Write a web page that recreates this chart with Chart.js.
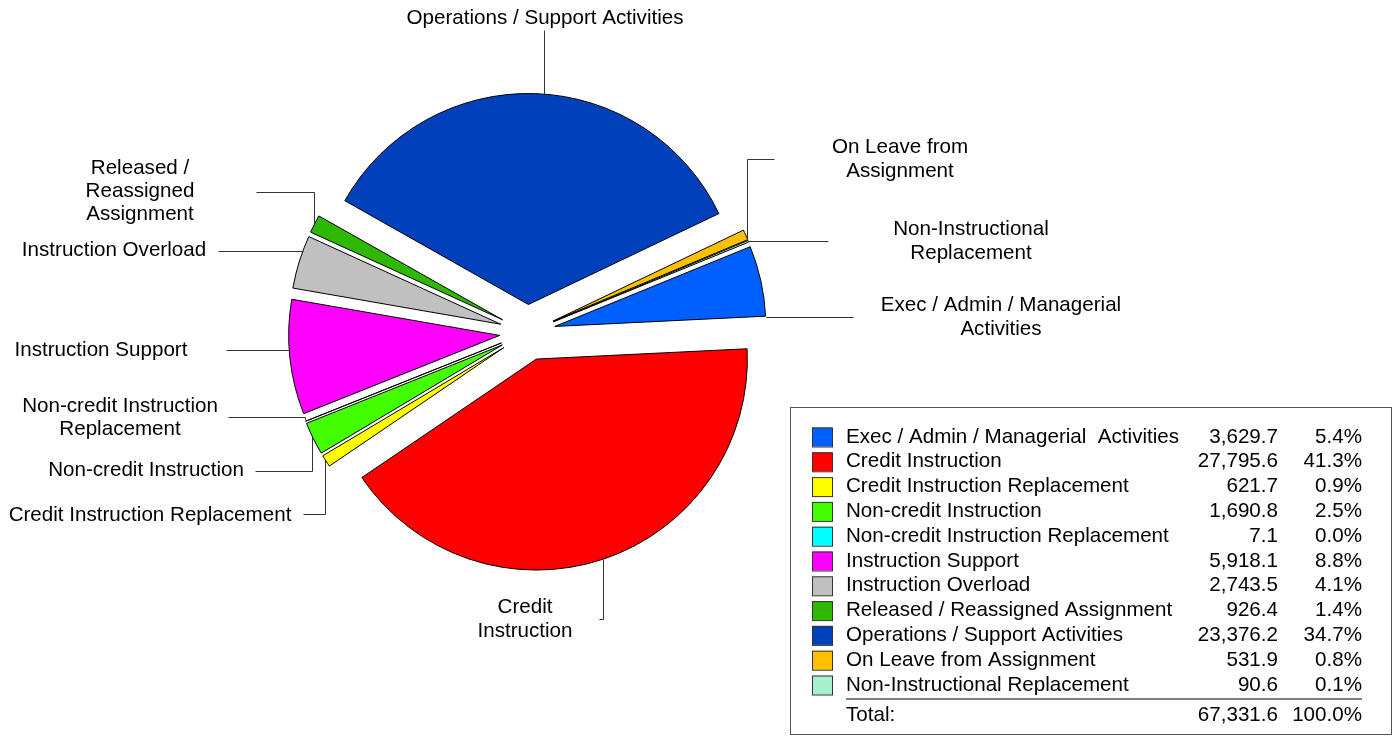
<!DOCTYPE html>
<html>
<head>
<meta charset="utf-8">
<script src="https://cdn.jsdelivr.net/npm/chart.js@4/dist/chart.umd.min.js"></script>
<style>
  html, body { margin: 0; padding: 0; background: #fff; }
  canvas { display: block; }
</style>
</head>
<body>
<canvas id="camembert" width="1393" height="736"></canvas>
<script>
// Données (ordre des parts, dans le sens horaire)
const categories = [
  "Exec / Admin / Managerial  Activities",
  "Credit Instruction",
  "Credit Instruction Replacement",
  "Non-credit Instruction",
  "Non-credit Instruction Replacement",
  "Instruction Support",
  "Instruction Overload",
  "Released / Reassigned Assignment",
  "Operations / Support Activities",
  "On Leave from Assignment",
  "Non-Instructional Replacement"
];
const values = [3629.7, 27795.6, 621.7, 1690.8, 7.1, 5918.1, 2743.5, 926.4, 23376.2, 531.9, 90.6];
const colors = [
  "#0060ff", "#ff0000", "#ffff00", "#44ff00", "#00ffff", "#ff00ff",
  "#c0c0c0", "#2eb800", "#0041bb", "#ffc000", "#a8f0d0"
];
// Étiquettes autour du camembert (découpées en lignes)
const sliceLabels = [
  ["Exec / Admin / Managerial", "Activities"],
  ["Credit", "Instruction"],
  ["Credit Instruction Replacement"],
  ["Non-credit Instruction"],
  ["Non-credit Instruction", "Replacement"],
  ["Instruction Support"],
  ["Instruction Overload"],
  ["Released /", "Reassigned", "Assignment"],
  ["Operations / Support Activities"],
  ["On Leave from", "Assignment"],
  ["Non-Instructional", "Replacement"]
];

const total = values.reduce((a, b) => a + b, 0);

// Mise en page
const FONT = '20.6px "Liberation Sans", Arial, sans-serif';
const PIE_RADIUS = 211;
const EXPLODE = 28;         // décalage de chaque part vers l'extérieur
const START_ANGLE = -22.2;  // début de la première part (degrés, 0 = 3 heures)

// Position du texte + coudes du trait de rappel ; le dernier segment va jusqu'au bord de la part
const labelPlacement = [
  { cx: 1001, ys: [305, 329], knees: [[853, 317]], end: "h" },
  { cx: 525, ys: [607, 631], knees: [[599, 619], [603, 619]], end: "v" },
  { cx: 150, ys: [515], knees: [[303, 514], [325, 514]], end: "v" },
  { cx: 146, ys: [470], knees: [[255, 471], [312, 471]], end: "v" },
  { cx: 120, ys: [406, 429], knees: [[228, 417], [305, 417]], end: "v" },
  { cx: 101, ys: [350], knees: [[226, 350]], end: "h" },
  { cx: 114, ys: [250], knees: [[218, 251]], end: "h" },
  { cx: 140, ys: [168, 191, 214], knees: [[256, 192], [314, 192]], end: "v" },
  { cx: 545, ys: [18], knees: [[544, 30]], end: "v" },
  { cx: 900, ys: [147, 171], knees: [[774, 159], [747, 159]], end: "v" },
  { cx: 971, ys: [229, 253], knees: [[828, 241]], end: "h" }
];

// Parts éclatées : chaque arc est dessiné décalé le long de sa bissectrice
const eclatement = {
  id: "eclatement",
  beforeDatasetDraw(chart, args) {
    const ctx = chart.ctx;
    args.meta.data.forEach(arc => {
      const mid = (arc.startAngle + arc.endAngle) / 2;
      ctx.save();
      ctx.translate(Math.cos(mid) * EXPLODE, Math.sin(mid) * EXPLODE);
      arc.draw(ctx);
      ctx.restore();
    });
    return false;
  }
};

// Étiquettes et traits de rappel
const etiquettes = {
  id: "etiquettes",
  afterDatasetsDraw(chart) {
    const ctx = chart.ctx;
    const arcs = chart.getDatasetMeta(0).data;
    ctx.save();
    ctx.font = FONT;
    ctx.fillStyle = "#000";
    ctx.textAlign = "center";
    ctx.textBaseline = "middle";
    ctx.strokeStyle = "#333";
    ctx.lineWidth = 1;
    arcs.forEach((arc, i) => {
      const place = labelPlacement[i];
      const r = arc.outerRadius;
      const mid = (arc.startAngle + arc.endAngle) / 2;
      const cx = arc.x + Math.cos(mid) * EXPLODE;
      const cy = arc.y + Math.sin(mid) * EXPLODE;
      const last = place.knees[place.knees.length - 1];
      let endPt;
      if (place.end === "h") {
        const d = Math.sqrt(Math.max(0, r * r - (last[1] - cy) ** 2));
        endPt = [last[0] < cx ? cx - d : cx + d, last[1]];
      } else {
        const d = Math.sqrt(Math.max(0, r * r - (last[0] - cx) ** 2));
        endPt = [last[0], last[1] < cy ? cy - d : cy + d];
      }
      ctx.beginPath();
      place.knees.forEach((p, k) => k === 0 ? ctx.moveTo(p[0] + 0.5, p[1] + 0.5) : ctx.lineTo(p[0] + 0.5, p[1] + 0.5));
      ctx.lineTo(endPt[0] + 0.5, endPt[1] + 0.5);
      ctx.stroke();
      sliceLabels[i].forEach((txt, k) => ctx.fillText(txt, place.cx, place.ys[k]));
    });
    ctx.restore();
  }
};

// Légende en tableau (nom, valeur, pourcentage)
const tableau = {
  id: "tableau",
  afterDraw(chart) {
    const ctx = chart.ctx;
    const fmt = v => v.toLocaleString("en-US", { minimumFractionDigits: 1, maximumFractionDigits: 1 });
    ctx.save();
    ctx.strokeStyle = "#555";
    ctx.lineWidth = 1;
    ctx.strokeRect(790.5, 407.5, 601, 327);
    ctx.font = FONT;
    ctx.textBaseline = "middle";
    categories.forEach((nom, i) => {
      const y = 437 + i * 24.8;
      ctx.fillStyle = colors[i];
      ctx.fillRect(812, y - 9.5, 20, 19);
      ctx.strokeStyle = "#333";
      ctx.strokeRect(812.5, y - 9, 20, 19);
      ctx.fillStyle = "#000";
      ctx.textAlign = "left";
      ctx.fillText(nom, 846, y);
      ctx.textAlign = "right";
      ctx.fillText(fmt(values[i]), 1278, y);
      ctx.fillText((values[i] / total * 100).toFixed(1) + "%", 1362, y);
    });
    ctx.strokeStyle = "#808080";
    ctx.lineWidth = 2;
    ctx.beginPath();
    ctx.moveTo(846, 699);
    ctx.lineTo(1362, 699);
    ctx.stroke();
    ctx.fillStyle = "#000";
    ctx.textAlign = "left";
    ctx.fillText("Total:", 846, 715);
    ctx.textAlign = "right";
    ctx.fillText(fmt(total), 1278, 715);
    ctx.fillText("100.0%", 1362, 715);
    ctx.restore();
  }
};

const data = {
  labels: categories,
  datasets: [{
    data: values,
    backgroundColor: colors,
    borderColor: "#000",
    borderWidth: 1,
    hoverOffset: 0
  }]
};

const config = {
  type: "pie",
  data: data,
  options: {
    responsive: false,
    animation: false,
    events: [],
    rotation: START_ANGLE + 90,
    radius: PIE_RADIUS,
    layout: { padding: { left: 227, right: 565, top: 32, bottom: 103 } },
    plugins: {
      legend: { display: false },
      tooltip: { enabled: false }
    }
  },
  plugins: [eclatement, etiquettes, tableau]
};

const camembert = new Chart(document.querySelector("#camembert"), config);
</script>
</body>
</html>
